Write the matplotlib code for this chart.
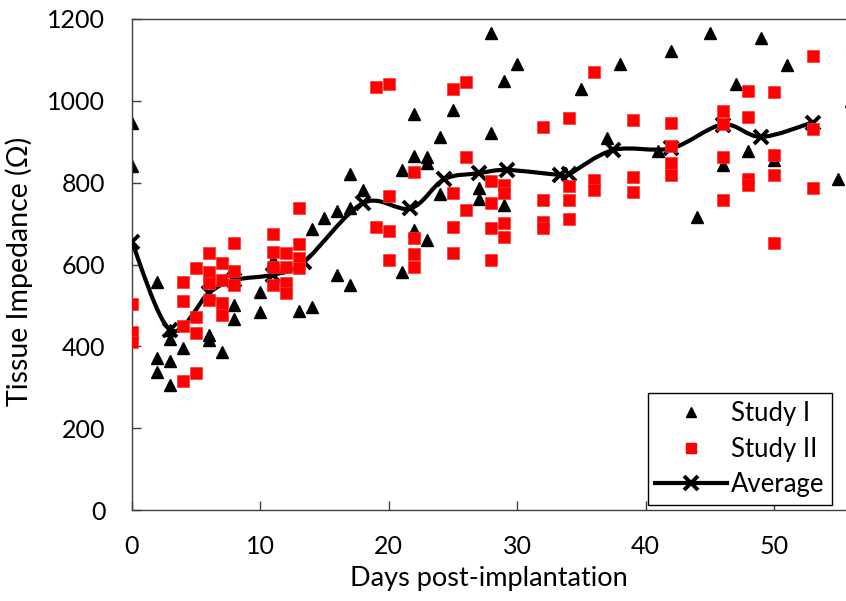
import matplotlib
matplotlib.use('Agg')
import matplotlib.pyplot as plt
from matplotlib.path import Path
from matplotlib.patches import PathPatch
from matplotlib.lines import Line2D

plt.rcParams['font.family'] = ['Lato', 'DejaVu Sans']

# Study I (black triangles)
study1_day = [0, 0, 2, 2, 2, 3, 3, 3, 3, 4, 6, 6, 7, 8, 8, 10, 10, 11, 13, 14, 14, 15,
              16, 16, 17, 17, 17, 18, 21, 21, 22, 22, 22, 23, 23, 23, 24, 24, 25, 27, 27,
              28, 28, 29, 29, 30, 35, 37, 38, 41, 42, 44, 45, 46, 47, 48, 49, 50, 51, 55, 56]
study1_val = [945, 840, 558, 371, 338, 440, 417, 363, 305, 395, 428, 415, 387, 501, 466,
              533, 485, 611, 487, 497, 686, 713, 731, 574, 821, 737, 550, 782, 832, 582,
              968, 865, 684, 862, 848, 661, 912, 772, 977, 786, 759, 1165, 922, 1049, 745,
              1090, 1030, 908, 1091, 878, 1122, 715, 1165, 843, 1042, 878, 1153, 855, 1087,
              810, 1000]

# Study II (red squares)
study2_day = [0, 0, 0, 4, 4, 4, 4, 5, 5, 5, 5, 6, 6, 6, 6, 7, 7, 7, 7, 8, 8, 8,
              11, 11, 11, 11, 12, 12, 12, 12, 13, 13, 13, 13, 19, 19, 20, 20, 20, 20,
              22, 22, 22, 22, 25, 25, 25, 25, 26, 26, 26, 28, 28, 28, 28, 29, 29, 29, 29,
              32, 32, 32, 32, 34, 34, 34, 34, 36, 36, 36, 39, 39, 39, 42, 42, 42, 42,
              46, 46, 46, 46, 48, 48, 48, 48, 50, 50, 50, 50, 53, 53, 53]
study2_val = [503, 436, 410, 558, 511, 450, 315, 592, 472, 432, 334, 629, 582, 554, 513,
              604, 562, 507, 477, 652, 585, 550, 674, 631, 595, 550, 629, 595, 556, 530,
              737, 649, 615, 591, 1033, 692, 1040, 767, 683, 611, 827, 664, 626, 595,
              1028, 774, 692, 629, 1046, 862, 733, 805, 750, 688, 611, 794, 775, 702, 666,
              937, 758, 705, 688, 959, 792, 758, 710, 1071, 806, 783, 953, 815, 778,
              946, 890, 847, 819, 975, 943, 862, 758, 1025, 961, 808, 795, 1021, 868, 819,
              652, 1109, 931, 786]

# Average (smoothed line)
avg_day = [0, 3, 6, 8, 11, 13.4, 18, 21.7, 24.3, 27, 29.2, 33.3, 34, 37.5, 42, 46, 49, 53]
avg_val = [656, 440, 530, 562, 575, 606, 750, 737, 808, 823, 831, 819, 820, 880, 884,
           942, 912, 947]

fig = plt.figure(figsize=(8.46, 6.01), dpi=100)
ax = fig.add_axes([0.1557, 0.1514, 0.8443, 0.817])

# smooth curve like Excel's "smoothed line" (Catmull-Rom as cubic Bezier)
verts = [(avg_day[0], avg_val[0])]
codes = [Path.MOVETO]
n = len(avg_day)
for i in range(n - 1):
    p0 = (avg_day[max(i - 1, 0)], avg_val[max(i - 1, 0)])
    p1 = (avg_day[i], avg_val[i])
    p2 = (avg_day[i + 1], avg_val[i + 1])
    p3 = (avg_day[min(i + 2, n - 1)], avg_val[min(i + 2, n - 1)])
    c1 = (p1[0] + (p2[0] - p0[0]) / 6, p1[1] + (p2[1] - p0[1]) / 6)
    c2 = (p2[0] - (p3[0] - p1[0]) / 6, p2[1] - (p3[1] - p1[1]) / 6)
    verts += [c1, c2, p2]
    codes += [Path.CURVE4] * 3
curve = PathPatch(Path(verts, codes), facecolor='none', edgecolor='black', lw=3, zorder=3,
                  capstyle='round', joinstyle='round')
ax.add_patch(curve)

ax.plot(study1_day, study1_val, linestyle='none', marker='^', ms=8.3, color='black',
        zorder=2)
ax.plot(avg_day, avg_val, linestyle='none', marker='x', ms=9.5, mew=2.8, color='black',
        zorder=3)
ax.plot(study2_day, study2_val, linestyle='none', marker='s', ms=8.6, color='#ff0000',
        mec='#ff3030', mew=0.5, zorder=4)

ax.set_xlim(0, 55.6)
ax.set_ylim(0, 1200)
ax.set_xticks(range(0, 51, 10))
ax.set_yticks(range(0, 1201, 200))
ax.tick_params(direction='in', length=6.5, width=1, color='#404040', labelsize=18,
               labelcolor='black')
ax.tick_params(axis='y', pad=19)
ax.tick_params(axis='x', pad=18)
for side in ['left', 'bottom', 'top']:
    ax.spines[side].set_color('#404040')
    ax.spines[side].set_linewidth(1)
ax.spines['right'].set_visible(False)

ax.set_xlabel('Days post-implantation', fontsize=19.5, labelpad=6)
ax.set_ylabel('Tissue Impedance (\u03a9)', fontsize=20.5)
ax.yaxis.set_label_coords(-0.138, 0.486)

handles = [
    Line2D([], [], linestyle='none', marker='^', ms=7, color='black'),
    Line2D([], [], linestyle='none', marker='s', ms=7, color='#ff0000'),
    Line2D([], [], color='black', lw=3, marker='x', ms=9.5, mew=2.8),
]
leg = ax.legend(handles, ['Study I', 'Study II', 'Average'], loc='lower right',
                bbox_to_anchor=(0.981, 0.0102), borderaxespad=0, fontsize=18.5,
                frameon=True, fancybox=False, edgecolor='black', framealpha=1,
                handlelength=2.8, handletextpad=0.15, labelspacing=0.42, borderpad=0.3)
leg.get_frame().set_linewidth(1)

fig.savefig('out.png', dpi=100)
